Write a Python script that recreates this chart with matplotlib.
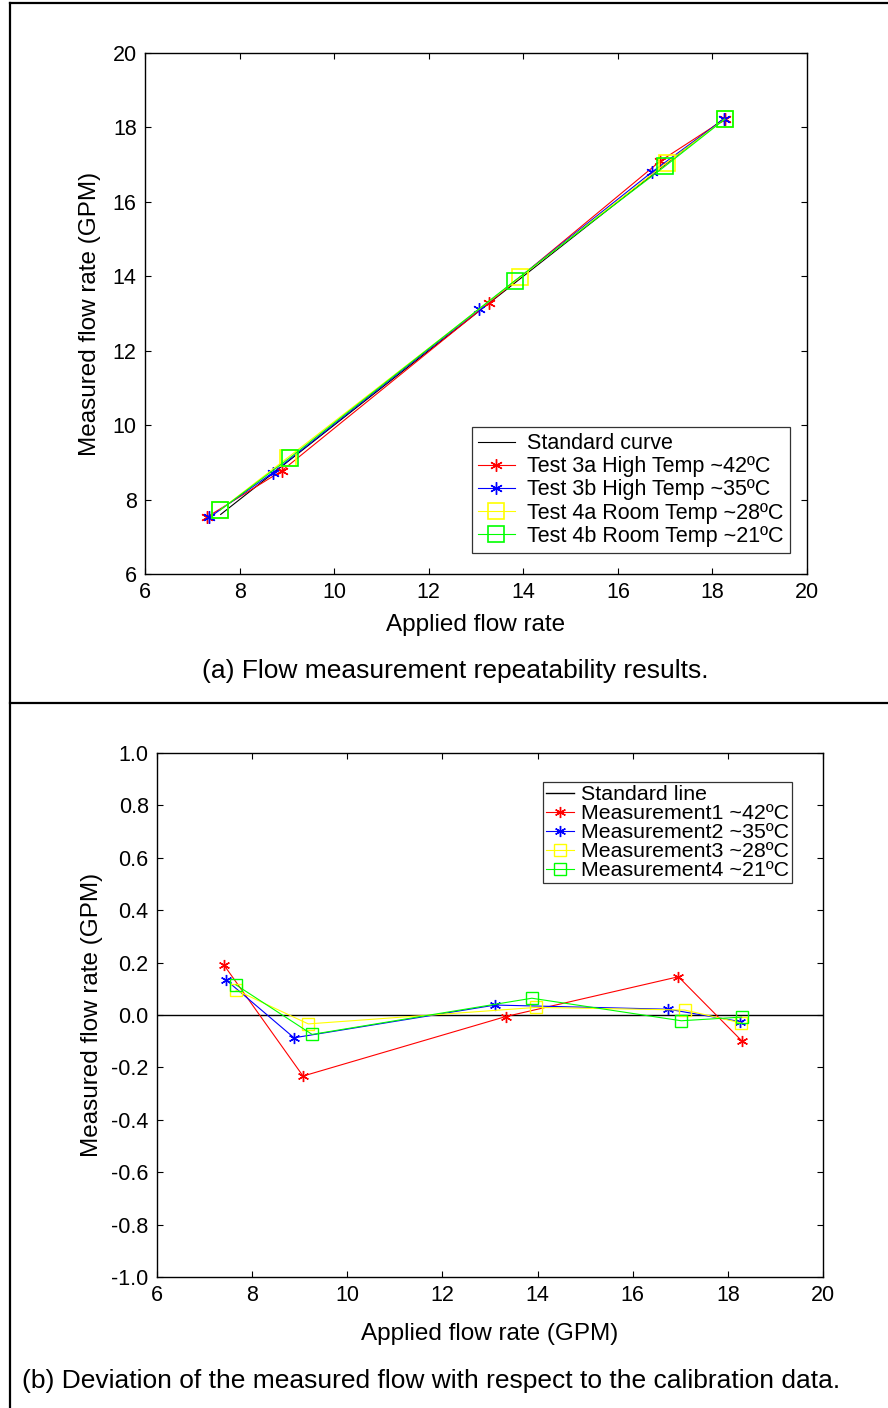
import numpy as np
import matplotlib
matplotlib.use('Agg')
import matplotlib.pyplot as plt
from matplotlib.lines import Line2D

plt.rcParams['font.family'] = ['Liberation Sans', 'DejaVu Sans']

# (a) applied vs measured flow, GPM
t3a_x = [7.31, 8.89, 13.28, 16.90, 18.26]
t3a_y = [7.53, 8.77, 13.29, 17.10, 18.22]
t3b_x = [7.36, 8.70, 13.07, 16.73, 18.24]
t3b_y = [7.52, 8.72, 13.11, 16.81, 18.22]
t4a_x = [7.59, 9.02, 13.93, 17.03, 18.26]
t4a_y = [7.72, 9.13, 13.97, 17.05, 18.22]
t4b_x = [7.59, 9.07, 13.82, 17.00, 18.26]
t4b_y = [7.72, 9.13, 13.88, 16.96, 18.22]
std_a = [7.6, 18.2]

# (b) deviation, GPM
m1_x = [7.41, 9.07, 13.33, 16.96, 18.30]
m1_y = [0.19, -0.233, -0.006, 0.146, -0.10]
m2_x = [7.45, 8.88, 13.11, 16.75, 18.26]
m2_y = [0.134, -0.087, 0.038, 0.022, -0.025]
m3_x = [7.66, 9.18, 13.97, 17.09, 18.27]
m3_y = [0.095, -0.034, 0.029, 0.019, -0.03]
m4_x = [7.66, 9.26, 13.88, 17.02, 18.29]
m4_y = [0.115, -0.074, 0.064, -0.022, -0.008]
std_b_x = [6, 20]
std_b_y = [0, 0]

W, H = 888, 1408
fig = plt.figure(figsize=(W / 100, H / 100), dpi=100)

AST = (6, 2, 0)  # matlab-ish asterisk


def ax_rect(l, t, r, b):
    return [l / W, 1 - b / H, (r - l) / W, (b - t) / H]


def style(ax):
    ax.tick_params(direction='in', length=4, width=0.8, top=True, right=True,
                   labelsize=15.5, pad=6)
    for s in ax.spines.values():
        s.set_linewidth(1.0)


# ---- top panel ----
ax1 = fig.add_axes(ax_rect(145, 53, 807, 574))
ax1.plot(std_a, std_a, color='black', lw=0.8, label='Standard curve', zorder=1)
ax1.plot(t3a_x, t3a_y, color='red', lw=0.8, marker=AST, ms=9, mew=1.0,
         label='Test 3a High Temp ~42ºC')
ax1.plot(t3b_x, t3b_y, color='blue', lw=0.8, marker=AST, ms=9, mew=1.0,
         label='Test 3b High Temp ~35ºC')
ax1.plot(t4a_x, t4a_y, color='yellow', lw=0.8, marker='s', ms=11, mfc='none',
         mew=1.2, label='Test 4a Room Temp ~28ºC')
ax1.plot(t4b_x, t4b_y, color='lime', lw=0.8, marker='s', ms=11, mfc='none',
         mew=1.2, label='Test 4b Room Temp ~21ºC')
ax1.set_xlim(6, 20)
ax1.set_ylim(6, 20)
ax1.set_xticks(np.arange(6, 21, 2))
ax1.set_yticks(np.arange(6, 21, 2))
style(ax1)
ax1.set_xlabel('Applied flow rate', fontsize=17.5, labelpad=8)
ax1.set_ylabel('Measured flow rate (GPM)', fontsize=17.5, labelpad=8)
leg1 = ax1.legend(loc='lower right', bbox_to_anchor=(0.975, 0.04),
                  fontsize=15.5, frameon=True, fancybox=False, edgecolor='black',
                  handlelength=1.7, borderpad=0.3, labelspacing=0.1,
                  handletextpad=0.6, borderaxespad=0)
leg1.get_frame().set_linewidth(0.9)

fig.text(455 / W, 1 - 671 / H, '(a) Flow measurement repeatability results.',
         ha='center', va='center', fontsize=19)

# ---- bottom panel ----
ax2 = fig.add_axes(ax_rect(157, 753, 823, 1277))
ax2.plot(std_b_x, std_b_y, color='black', lw=1.0, label='Standard line')
ax2.plot(m1_x, m1_y, color='red', lw=0.8, marker=AST, ms=8, mew=1.0,
         label='Measurement1 ~42ºC')
ax2.plot(m2_x, m2_y, color='blue', lw=0.8, marker=AST, ms=8, mew=1.0,
         label='Measurement2 ~35ºC')
ax2.plot(m3_x, m3_y, color='yellow', lw=0.8, marker='s', ms=8, mfc='none',
         mew=1.0, label='Measurement3 ~28ºC')
ax2.plot(m4_x, m4_y, color='lime', lw=0.8, marker='s', ms=8, mfc='none',
         mew=1.0, label='Measurement4 ~21ºC')
ax2.set_xlim(6, 20)
ax2.set_ylim(-1.0, 1.0)
yt = np.round(np.arange(-1.0, 1.01, 0.2), 1)
ax2.set_xticks(np.arange(6, 21, 2))
ax2.set_yticks(yt)
ax2.set_yticklabels(['%.1f' % (v + 0.0) for v in yt])
style(ax2)
ax2.set_xlabel('Applied flow rate (GPM)', fontsize=17.5, labelpad=12)
ax2.set_ylabel('Measured flow rate (GPM)', fontsize=17.5, labelpad=6)
leg2 = ax2.legend(loc='upper right', bbox_to_anchor=(0.954, 0.945),
                  fontsize=15.4, frameon=True, fancybox=False, edgecolor='black',
                  handlelength=1.3, borderpad=0.15, labelspacing=0.0,
                  handletextpad=0.35, borderaxespad=0)
leg2.get_frame().set_linewidth(0.9)

fig.text(22 / W, 1 - 1381 / H,
         '(b) Deviation of the measured flow with respect to the calibration data.',
         ha='left', va='center', fontsize=19)

# outer frame lines
for xs, ys in [([10, 10], [3, H]), ([10, W], [3, 3]), ([10, W], [703, 703])]:
    fig.add_artist(Line2D([x / W for x in xs], [1 - y / H for y in ys],
                          color='black', lw=1.6, transform=fig.transFigure))

fig.savefig('out.png', dpi=100)
